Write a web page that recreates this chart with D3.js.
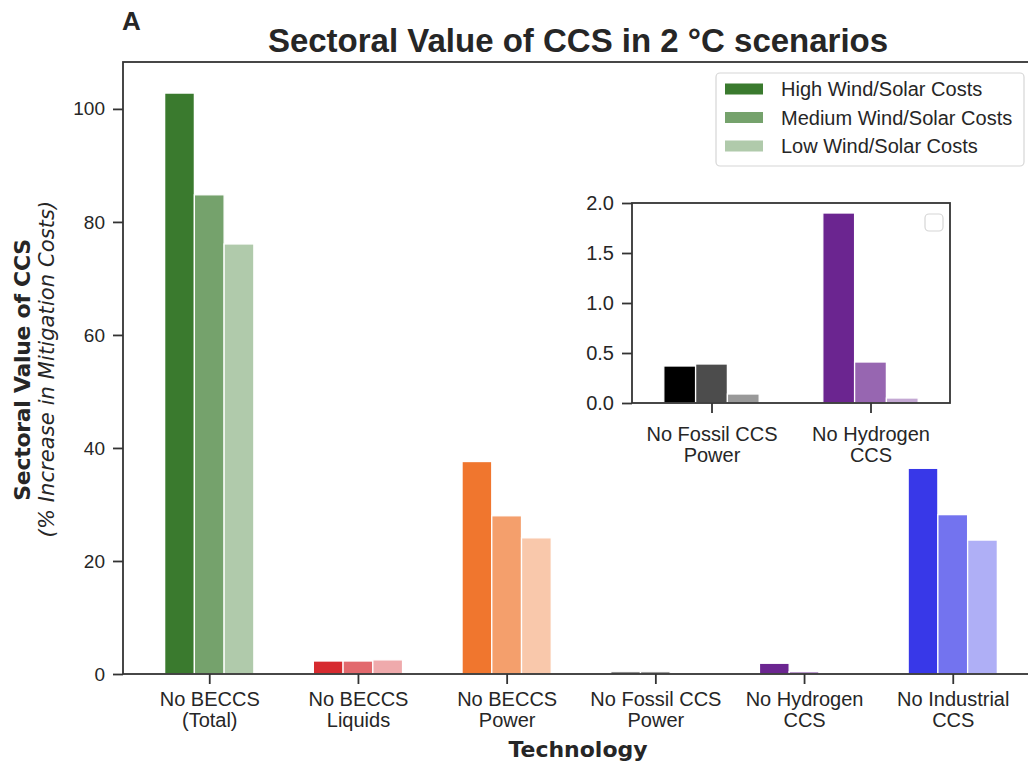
<!DOCTYPE html>
<html>
<head>
<meta charset="utf-8">
<script src="https://cdn.jsdelivr.net/npm/d3@7"></script>
<style>
  body { margin: 0; background: #fff; }
  svg { display: block; }
</style>
</head>
<body>
<svg id="chart" width="1028" height="763"></svg>
<script>
// ---------------- DATA ----------------
const categories = ["No BECCS\n(Total)", "No BECCS\nLiquids", "No BECCS\nPower", "No Fossil CCS\nPower", "No Hydrogen\nCCS", "No Industrial\nCCS"];
const seriesNames = ["High Wind/Solar Costs", "Medium Wind/Solar Costs", "Low Wind/Solar Costs"];
const highCost   = [102.8, 2.3, 37.6, 0.37, 1.9, 36.4];
const mediumCost = [84.8, 2.3, 28.0, 0.39, 0.41, 28.2];
const lowCost    = [76.1, 2.5, 24.1, 0.09, 0.05, 23.7];
const categoryColors = ["#3a7a2e", "#d62a2f", "#f0762e", "#000000", "#6b2590", "#3838e8"];
const seriesAlpha = [1, 0.7, 0.4];
const yTicks = [0, 20, 40, 60, 80, 100];
const insetIndices = [3, 4];
const insetYTicks = [0, 0.5, 1.0, 1.5, 2.0];
const insetYTickLabels = ["0.0", "0.5", "1.0", "1.5", "2.0"];

const series = [highCost, mediumCost, lowCost];

// ---------------- LAYOUT ----------------
const svg = d3.select("#chart");
const TXT = "#262626";
const SPINE = "#333333";
const FONT = "'Liberation Sans', Arial, sans-serif";
const MFONT = "'DejaVu Sans', sans-serif";

const main = { left: 123, right: 1039, top: 62, bottom: 674 };
const x = d3.scaleLinear().domain([-0.58, 5.58]).range([main.left, main.right]);
const y = d3.scaleLinear().domain([0, 108.3]).range([main.bottom, main.top]);
const barW = 0.2;

// bars
const g = svg.append("g");
series.forEach((vals, j) => {
  g.selectAll(null).data(vals).enter().append("rect")
    .attr("x", (d, i) => x(i + (j - 1) * barW - barW / 2))
    .attr("width", (d, i) => x(i + (j - 1) * barW + barW / 2) - x(i + (j - 1) * barW - barW / 2))
    .attr("y", d => y(d))
    .attr("height", d => y(0) - y(d))
    .attr("fill", (d, i) => categoryColors[i])
    .attr("fill-opacity", seriesAlpha[j])
    .attr("stroke", "#fff")
    .attr("stroke-width", 1.3);
});

// frame
svg.append("rect")
  .attr("x", main.left).attr("y", main.top)
  .attr("width", main.right - main.left).attr("height", main.bottom - main.top)
  .attr("fill", "none").attr("stroke", SPINE).attr("stroke-width", 1.8);

// y axis
const yAxis = svg.append("g").attr("transform", `translate(${main.left},0)`)
  .call(d3.axisLeft(y).tickValues(yTicks).tickSize(10).tickPadding(8).tickSizeOuter(0));
yAxis.select(".domain").remove();
yAxis.selectAll(".tick line").attr("stroke", SPINE).attr("stroke-width", 1.8);
yAxis.selectAll(".tick text").attr("fill", TXT).style("font-family", FONT).style("font-size", "19px");

// x axis
const xAxis = svg.append("g").attr("transform", `translate(0,${main.bottom})`)
  .call(d3.axisBottom(x).tickValues(d3.range(categories.length)).tickSize(10).tickSizeOuter(0).tickFormat(""));
xAxis.select(".domain").remove();
xAxis.selectAll(".tick line").attr("stroke", SPINE).attr("stroke-width", 1.8);
xAxis.selectAll(".tick").each(function (d) {
  const t = d3.select(this).append("text")
    .attr("fill", TXT).attr("text-anchor", "middle")
    .style("font-family", FONT).style("font-size", "20px");
  categories[d].split("\n").forEach((line, k) => {
    t.append("tspan").attr("x", 0).attr("y", 32 + k * 20.5).text(line);
  });
});

// axis labels
svg.append("text")
  .attr("transform", `translate(30,370) rotate(-90)`)
  .attr("text-anchor", "middle").attr("fill", TXT)
  .style("font-family", MFONT).style("font-size", "22px").style("font-weight", "bold")
  .style("letter-spacing", "-0.3px")
  .text("Sectoral Value of CCS");
svg.append("text")
  .attr("transform", `translate(54,369) rotate(-90)`)
  .attr("text-anchor", "middle").attr("fill", TXT)
  .style("font-family", MFONT).style("font-size", "21px").style("font-style", "italic")
  .style("letter-spacing", "0.1px")
  .text("(% Increase in Mitigation Costs)");
svg.append("text")
  .attr("x", 578).attr("y", 757)
  .attr("text-anchor", "middle").attr("fill", TXT)
  .style("font-family", MFONT).style("font-size", "22px").style("font-weight", "bold")
  .text("Technology");

// title and panel letter
svg.append("text")
  .attr("x", 578).attr("y", 52)
  .attr("text-anchor", "middle").attr("fill", TXT)
  .style("font-family", FONT).style("font-size", "33px").style("font-weight", "bold")
  .text("Sectoral Value of CCS in 2 °C scenarios");
svg.append("text")
  .attr("x", 122).attr("y", 30)
  .attr("fill", TXT)
  .style("font-family", FONT).style("font-size", "26px").style("font-weight", "bold")
  .text("A");

// legend
const leg = svg.append("g");
leg.append("rect").attr("x", 716).attr("y", 73).attr("width", 308).attr("height", 93)
  .attr("rx", 4).attr("fill", "#fff").attr("stroke", "#d6d6d6").attr("stroke-width", 1.2);
seriesNames.forEach((name, j) => {
  const cy = 89 + j * 28.5;
  leg.append("rect").attr("x", 725).attr("y", cy - 5.5).attr("width", 38).attr("height", 11)
    .attr("fill", categoryColors[0]).attr("fill-opacity", seriesAlpha[j]);
  leg.append("text").attr("x", 781).attr("y", cy + 7).attr("fill", TXT)
    .style("font-family", FONT).style("font-size", "20px").text(name);
});

// ---------------- INSET ----------------
const ins = { left: 632, right: 950, top: 203, bottom: 403 };
const ix = d3.scaleLinear().domain([-0.5, 1.5]).range([ins.left, ins.right]);
const iy = d3.scaleLinear().domain([0, 2]).range([ins.bottom, ins.top]);
const ig = svg.append("g");
ig.append("rect").attr("x", ins.left).attr("y", ins.top)
  .attr("width", ins.right - ins.left).attr("height", ins.bottom - ins.top).attr("fill", "#fff");
series.forEach((vals, j) => {
  ig.selectAll(null).data(insetIndices).enter().append("rect")
    .attr("x", (c, k) => ix(k + (j - 1) * barW - barW / 2))
    .attr("width", (c, k) => ix(k + (j - 1) * barW + barW / 2) - ix(k + (j - 1) * barW - barW / 2))
    .attr("y", c => iy(vals[c]))
    .attr("height", c => iy(0) - iy(vals[c]))
    .attr("fill", c => categoryColors[c])
    .attr("fill-opacity", seriesAlpha[j])
    .attr("stroke", "#fff").attr("stroke-width", 1.3);
});
ig.append("rect").attr("x", ins.left).attr("y", ins.top)
  .attr("width", ins.right - ins.left).attr("height", ins.bottom - ins.top)
  .attr("fill", "none").attr("stroke", SPINE).attr("stroke-width", 1.8);
const iyAxis = ig.append("g").attr("transform", `translate(${ins.left},0)`)
  .call(d3.axisLeft(iy).tickValues(insetYTicks).tickSize(10).tickPadding(8).tickSizeOuter(0)
    .tickFormat((d, i) => insetYTickLabels[i]));
iyAxis.select(".domain").remove();
iyAxis.selectAll(".tick line").attr("stroke", SPINE).attr("stroke-width", 1.8);
iyAxis.selectAll(".tick text").attr("fill", TXT).style("font-family", FONT).style("font-size", "20px");
const ixAxis = ig.append("g").attr("transform", `translate(0,${ins.bottom})`)
  .call(d3.axisBottom(ix).tickValues([0, 1]).tickSize(10).tickSizeOuter(0).tickFormat(""));
ixAxis.select(".domain").remove();
ixAxis.selectAll(".tick line").attr("stroke", SPINE).attr("stroke-width", 1.8);
ixAxis.selectAll(".tick").each(function (d) {
  const t = d3.select(this).append("text")
    .attr("fill", TXT).attr("text-anchor", "middle")
    .style("font-family", FONT).style("font-size", "20px");
  categories[insetIndices[d]].split("\n").forEach((line, k) => {
    t.append("tspan").attr("x", 0).attr("y", 38 + k * 20.5).text(line);
  });
});
// empty inset legend
ig.append("rect").attr("x", 925).attr("y", 214).attr("width", 18).attr("height", 17)
  .attr("rx", 4).attr("fill", "#fff").attr("stroke", "#d6d6d6").attr("stroke-width", 1.2);
</script>
</body>
</html>
